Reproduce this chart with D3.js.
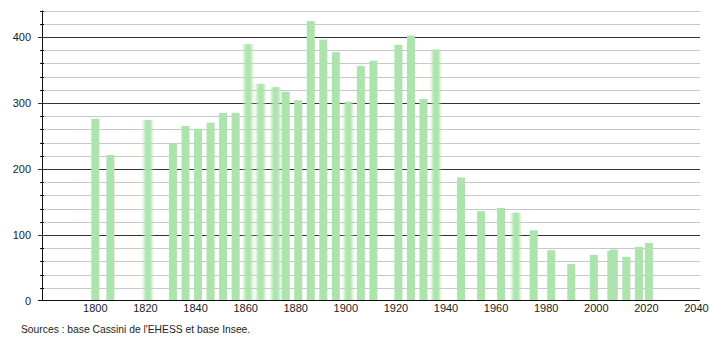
<!DOCTYPE html>
<html>
<head>
<meta charset="utf-8">
<script src="https://cdn.jsdelivr.net/npm/d3@7"></script>
<style>
    body { margin: 0; background: #fff; }
    text { font-family: "Liberation Sans", Arial, sans-serif; }
</style>
</head>
<body>
<svg id="chart" width="710" height="340"></svg>
<script>
// Population by census year
var years = [1800, 1806, 1821, 1831, 1836, 1841, 1846, 1851, 1856, 1861, 1866, 1872, 1876, 1881, 1886,
    1891, 1896, 1901, 1906, 1911, 1921, 1926, 1931, 1936, 1946, 1954, 1962, 1968, 1975, 1982, 1990,
    1999, 2006, 2007, 2012, 2017, 2021];
var population = [276, 221, 274, 238, 265, 261, 270, 285, 285, 389, 329, 324, 317, 304, 424,
    396, 377, 302, 356, 364, 388, 402, 306, 381, 187, 136, 141, 134, 107, 77, 56,
    70, 76, 78, 67, 82, 88];
// bars that look soft-edged in the picture
var blurredYears = [1821, 1861, 1866, 1872, 1901, 1936, 1968];
var xTicks = [1800, 1820, 1840, 1860, 1880, 1900, 1920, 1940, 1960, 1980, 2000, 2020, 2040];
var yTicks = [0, 100, 200, 300, 400];
var sourceText = "Sources : base Cassini de l'EHESS et base Insee.";

var svg = d3.select("#chart"),
    plotLeft = 42, plotRight = 700, plotTop = 10.5, plotBottom = 301;

var x = d3.scaleLinear().domain([1778.7, 2041.4]).range([plotLeft, plotRight]),
    y = d3.scaleLinear().domain([0, 440]).range([plotBottom, plotTop]),
    halfBar = 1.6;

var defs = svg.append("defs");
defs.append("filter")
    .attr("id", "soft")
    .attr("x", "-50%").attr("width", "200%")
    .append("feGaussianBlur")
    .attr("stdDeviation", "1.6 0");

function gridY(d) { return Math.round(y(d)) + 0.5; }

// minor grid every 20
var minor = d3.range(20, 441, 20).filter(function (d) { return d % 100 !== 0; });
svg.append("g").selectAll("line")
    .data(minor)
    .join("line")
    .attr("x1", plotLeft).attr("x2", plotRight)
    .attr("y1", gridY).attr("y2", gridY)
    .attr("stroke", "#c8c8c8")
    .attr("stroke-width", 1);

// major grid every 100
svg.append("g").selectAll("line")
    .data(yTicks.filter(function (d) { return d > 0; }))
    .join("line")
    .attr("x1", plotLeft - 4).attr("x2", plotRight)
    .attr("y1", gridY).attr("y2", gridY)
    .attr("stroke", "#333")
    .attr("stroke-width", 1);

// bars
var data = years.map(function (yr, i) { return { year: yr, value: population[i] }; });
svg.append("g").selectAll("rect")
    .data(data)
    .join("rect")
    .attr("x", function (d) { return x(d.year - halfBar); })
    .attr("width", function (d) { return x(d.year + halfBar) - x(d.year - halfBar); })
    .attr("y", function (d) { return y(d.value); })
    .attr("height", function (d) { return y(0) - y(d.value); })
    .attr("fill", "#ade3ad")
    .attr("filter", function (d) { return blurredYears.indexOf(d.year) >= 0 ? "url(#soft)" : null; });

// y axis line and minor ticks
svg.append("line")
    .attr("x1", plotLeft + 0.5).attr("x2", plotLeft + 0.5)
    .attr("y1", plotTop).attr("y2", plotBottom)
    .attr("stroke", "#111");
svg.append("g").selectAll("line")
    .data(minor)
    .join("line")
    .attr("x1", plotLeft - 2).attr("x2", plotLeft + 2)
    .attr("y1", gridY).attr("y2", gridY)
    .attr("stroke", "#111");

// x axis line
svg.append("line")
    .attr("x1", plotLeft - 4).attr("x2", plotRight)
    .attr("y1", Math.round(y(0)) - 0.5).attr("y2", Math.round(y(0)) - 0.5)
    .attr("stroke", "#111");

// y labels
svg.append("g").selectAll("text")
    .data(yTicks)
    .join("text")
    .attr("x", 31)
    .attr("y", function (d) { return y(d); })
    .attr("dy", "0.35em")
    .attr("text-anchor", "end")
    .style("font-size", "11px")
    .attr("fill", "#222")
    .text(function (d) { return d; });

// x labels
svg.append("g").selectAll("text")
    .data(xTicks)
    .join("text")
    .attr("x", function (d) { return x(d); })
    .attr("y", 311.5)
    .attr("text-anchor", "middle")
    .style("font-size", "11px")
    .attr("fill", "#222")
    .text(function (d) { return d; });

// source note
svg.append("text")
    .attr("x", 21)
    .attr("y", 333)
    .style("font-size", "10.3px")
    .attr("fill", "#222")
    .text(sourceText);
</script>
</body>
</html>
